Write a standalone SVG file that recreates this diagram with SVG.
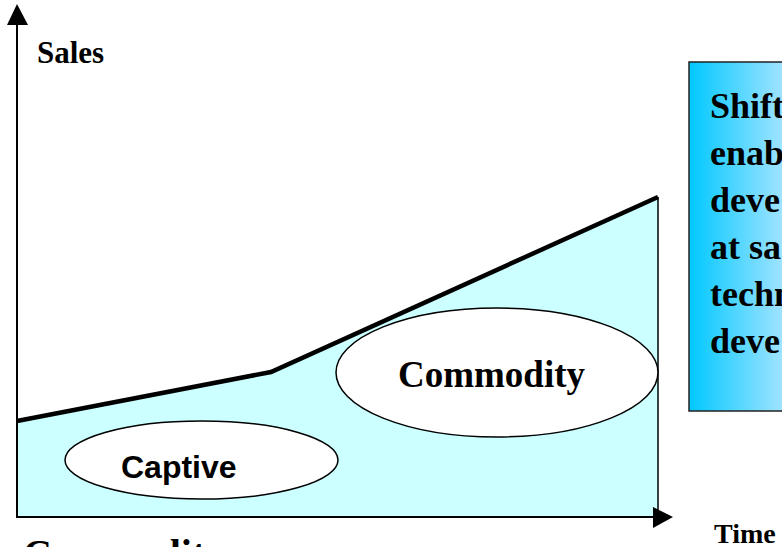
<svg xmlns="http://www.w3.org/2000/svg" width="782" height="547" viewBox="0 0 782 547">
<defs>
<linearGradient id="boxGrad" gradientUnits="userSpaceOnUse" x1="689" y1="0" x2="800" y2="0">
<stop offset="0" stop-color="#00C8FF"/>
<stop offset="1" stop-color="#BDE8FF"/>
</linearGradient>
<style>
.serif{font-family:"Liberation Serif","Times New Roman",serif;font-weight:bold;fill:#000}
.sans{font-family:"Liberation Sans",Arial,sans-serif;font-weight:bold;fill:#000}
.ell{fill:#fff;stroke:#000;stroke-width:1.5}
.axis{stroke:#000;stroke-width:2;fill:none}
</style>
</defs>
<rect width="782" height="547" fill="#fff"/>
<g id="area">
<polygon points="17,421 271,372 658,197 658,517 17,517" fill="#CCFFFF"/>
<line x1="658" y1="197" x2="658" y2="517" stroke="#000" stroke-width="1.5"/>
</g>
<g id="connectors">
<polyline points="17,421 271,372 658,197" fill="none" stroke="#000" stroke-width="4.5" stroke-linejoin="miter"/>
<line class="axis" x1="17" y1="518" x2="17" y2="22"/>
<polygon points="7,25 17,4 28,25" fill="#000"/>
<line class="axis" x1="16" y1="517" x2="656" y2="517"/>
<polygon points="653,507 673,517 653,528" fill="#000"/>
</g>
<g id="sales-label"><text class="serif" x="37" y="63" font-size="31">Sales</text></g>
<g id="time-label"><text class="serif" x="714" y="543" font-size="28">Time</text></g>
<g id="captive">
<ellipse class="ell" cx="201.5" cy="460" rx="136.5" ry="39"/>
<text class="sans" x="121" y="478" font-size="32">Captive</text>
</g>
<g id="commodity">
<ellipse class="ell" cx="497" cy="372.5" rx="161" ry="64.5"/>
<text class="serif" x="398" y="387" font-size="37">Commodity</text>
</g>
<g id="note">
<rect x="689" y="62" width="110" height="349" fill="url(#boxGrad)" stroke="#222" stroke-width="1.5"/>
<text class="serif" font-size="36">
<tspan x="710" y="118">Shift</tspan>
<tspan x="710" y="165">enab</tspan>
<tspan x="710" y="212">deve</tspan>
<tspan x="710" y="259">at sa</tspan>
<tspan x="710" y="306">techn</tspan>
<tspan x="710" y="353">deve</tspan>
</text>
</g>
<g id="bottom-title"><text class="serif" x="23" y="567" font-size="40">Commodity</text></g>
</svg>
